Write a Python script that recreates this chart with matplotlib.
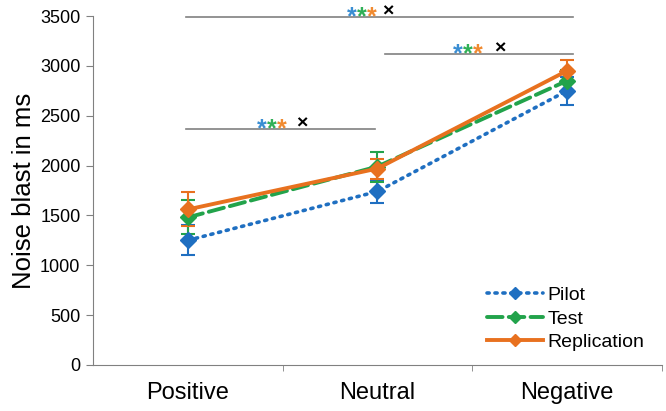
import numpy as np
import matplotlib.pyplot as plt
from matplotlib.lines import Line2D

plt.rcParams.update({
    "font.family": ["Liberation Sans", "DejaVu Sans"],
})

categories = ["Positive", "Neutral", "Negative"]
series = ["Pilot", "Test", "Replication"]
means = {
    "Pilot": [1250, 1740, 2750],
    "Test": [1480, 1990, 2850],
    "Replication": [1560, 1970, 2950],
}
errs = {
    "Pilot": [150, 120, 140],
    "Test": [170, 150, 110],
    "Replication": [170, 100, 110],
}
colors = {"Pilot": "#1f6fc1", "Test": "#22a34b", "Replication": "#e8711f"}
styles = {"Pilot": (0, (0.6, 1.6)), "Test": (0, (4, 1.6)), "Replication": "-"}
widths = {"Pilot": 2.6, "Test": 2.8, "Replication": 2.8}

# significance brackets: x start, x end, y level, first star x, cross x
br_start = [-0.01, 1.04, -0.01]
br_end = [2.03, 2.03, 0.99]
br_y = [3490, 3120, 2370]
star_x = [0.865, 1.424, 0.391]
cross_x = [1.055, 1.645, 0.602]

fig = plt.figure(figsize=(6.66, 4.11), dpi=100)
ax = fig.add_axes([0.1396, 0.112, 0.854, 0.849])
x = np.arange(len(categories))

handles = []
for name in series:
    ax.errorbar(x, means[name], yerr=errs[name], color=colors[name],
                linestyle=styles[name], linewidth=widths[name],
                dash_capstyle="round", marker="D", markersize=8,
                capsize=5, elinewidth=1.5, capthick=1.5)
    handles.append(Line2D([], [], color=colors[name], linestyle=styles[name],
                          linewidth=widths[name], dash_capstyle="round",
                          marker="D", markersize=6, label=name))

star_cols = ["#3a8ed3", "#30b057", "#f08a30"]
for a, b, y, sx, cx in zip(br_start, br_end, br_y, star_x, cross_x):
    ax.plot([a, b], [y, y], color="#808080", lw=1.2, clip_on=False, zorder=1)
    for i, c in enumerate(star_cols):
        ax.text(sx + i * 0.053, y - 75, "*", color=c, fontsize=18,
                fontweight="bold", ha="center", va="baseline", clip_on=False)
    ax.text(cx, y + 5, "\u00d7", color="black", fontsize=14,
            ha="center", va="baseline", fontweight="bold", clip_on=False)

ax.set_xlim(-0.5, 2.5)
ax.set_ylim(0, 3500)
ax.set_yticks(np.arange(0, 3501, 500))
ax.set_xticks(x)
ax.set_xticklabels(categories, fontsize=17)
ax.set_xticks([0.5, 1.5, 2.5], minor=True)
ax.tick_params(axis="x", which="major", length=0, pad=12)
ax.tick_params(axis="x", which="minor", length=4, color="#808080")
ax.tick_params(axis="y", labelsize=13, length=5, color="#808080", pad=4)
ax.set_ylabel("Noise blast in ms", fontsize=18.5, labelpad=3)

for s in ["top", "right"]:
    ax.spines[s].set_visible(False)
for s in ["left", "bottom"]:
    ax.spines[s].set_color("#808080")

ax.legend(handles=handles, loc="lower right", bbox_to_anchor=(1.0, -0.01),
          frameon=False, fontsize=14, handlelength=2.9, handletextpad=0.2,
          labelspacing=0.3)

fig.savefig("out.png", dpi=100)
